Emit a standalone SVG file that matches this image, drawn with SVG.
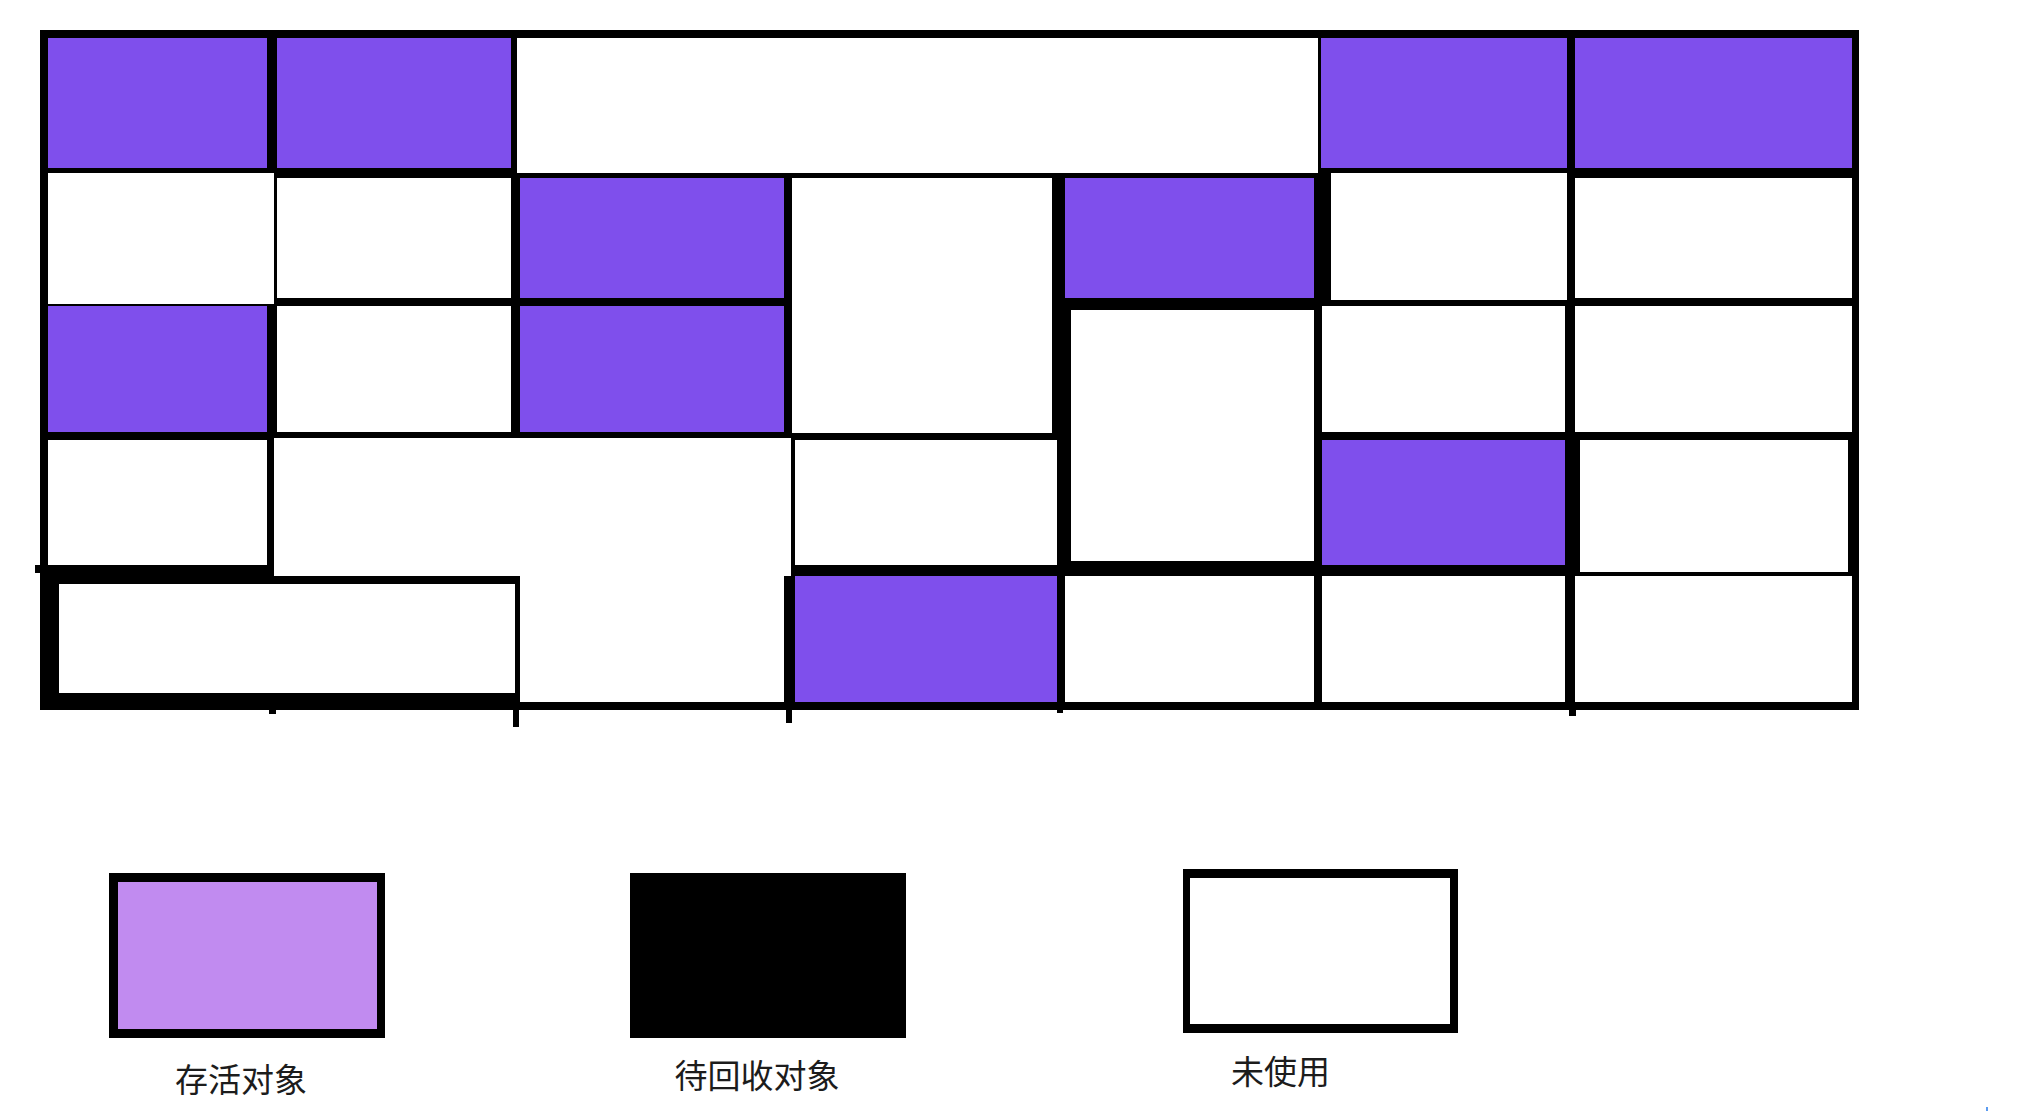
<svg xmlns="http://www.w3.org/2000/svg" width="2020" height="1112" viewBox="0 0 2020 1112">
<style>
.live{fill:#7F4FEC}
.free{fill:#FFFFFF}
.ink{fill:#000000}
.lbl{font-family:"Noto Sans CJK SC","Noto Sans",sans-serif;font-size:33px;fill:#1c1c1c}
</style>
<rect width="2020" height="1112" fill="#FFFFFF"/>
<g id="heap">
  <rect id="frame" class="ink" x="40" y="30" width="1819" height="680"/>
  <g id="row1">
    <rect id="r1c1" class="live" x="48" y="38" width="219" height="130"/>
    <rect id="r1c2" class="live" x="277" y="38" width="234" height="130"/>
    <rect id="r1c3" class="free" x="517" y="38" width="801" height="135"/>
    <rect id="r1c6" class="live" x="1321" y="38" width="246" height="130"/>
    <rect id="r1c7" class="live" x="1575" y="38" width="277" height="130"/>
  </g>
  <g id="row2">
    <rect id="r2c1" class="free" x="48" y="173" width="226" height="131"/>
    <rect id="r2c2" class="free" x="277" y="178" width="234" height="120"/>
    <rect id="r2c3" class="live" x="520" y="178" width="264" height="120"/>
    <rect id="r2c4" class="free" x="792" y="178" width="260" height="255"/>
    <rect id="r2c5" class="live" x="1065" y="178" width="249" height="120"/>
    <rect id="r2c6" class="free" x="1331" y="173" width="236" height="127"/>
    <rect id="r2c7" class="free" x="1575" y="178" width="277" height="120"/>
  </g>
  <g id="row3">
    <rect id="r3c1" class="live" x="48" y="306" width="219" height="126"/>
    <rect id="r3c2" class="free" x="277" y="306" width="234" height="126"/>
    <rect id="r3c3" class="live" x="520" y="306" width="264" height="126"/>
    <rect id="r3c5" class="free" x="1071" y="310" width="243" height="251"/>
    <rect id="r3c6" class="free" x="1322" y="306" width="243" height="126"/>
    <rect id="r3c7" class="free" x="1575" y="306" width="277" height="126"/>
  </g>
  <g id="row4">
    <rect id="r4c1" class="free" x="48" y="440" width="219" height="125"/>
    <polygon id="r4c2" class="free" points="274,438 791,438 791,576 784,576 784,702 520,702 520,576 274,576"/>
    <rect id="r4c4" class="free" x="795" y="440" width="262" height="125"/>
    <rect id="r4c6" class="live" x="1322" y="440" width="243" height="125"/>
    <rect id="r4c7" class="free" x="1580" y="440" width="268" height="132"/>
  </g>
  <g id="row5">
    <rect id="r5c1" class="free" x="59" y="584" width="456" height="109"/>
    <rect id="r5c4" class="live" x="795" y="576" width="262" height="126"/>
    <rect id="r5c5" class="free" x="1065" y="576" width="249" height="126"/>
    <rect id="r5c6" class="free" x="1322" y="576" width="243" height="126"/>
    <rect id="r5c7" class="free" x="1575" y="576" width="277" height="126"/>
  </g>
  <g id="stubs" class="ink">
    <rect x="35" y="565" width="6" height="8"/>
    <rect x="269" y="708" width="7" height="6"/>
    <rect x="513" y="708" width="6" height="19"/>
    <rect x="786" y="708" width="6" height="15"/>
    <rect x="1057" y="708" width="6" height="5"/>
    <rect x="1569" y="708" width="7" height="8"/>
  </g>
</g>
<g id="legend-live">
  <rect class="ink" x="109" y="873" width="276" height="165"/>
  <rect x="118" y="882" width="259" height="147" fill="#C18BF0"/>
  <text class="lbl" x="241" y="1092" text-anchor="middle">存活对象</text>
</g>
<g id="legend-garbage">
  <rect class="ink" x="630" y="873" width="276" height="165"/>
  <text class="lbl" x="757" y="1088" text-anchor="middle">待回收对象</text>
</g>
<g id="legend-free">
  <rect class="ink" x="1183" y="869" width="275" height="164"/>
  <rect class="free" x="1190" y="878" width="260" height="146"/>
  <text class="lbl" x="1231" y="1084">未使用</text>
</g>
<rect x="1986" y="1107" width="2" height="4" fill="#5B9BF0"/>
</svg>
